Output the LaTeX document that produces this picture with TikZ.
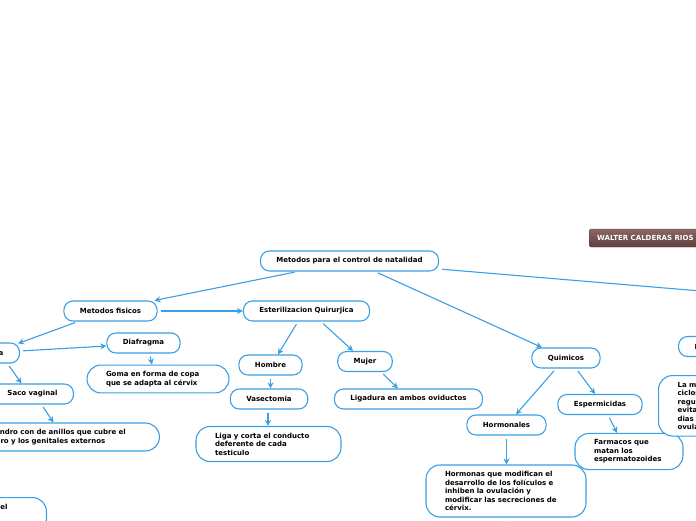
\documentclass[tikz,border=0pt]{standalone}
\usepackage{fontspec}
\setmainfont{DejaVu Sans}
\usetikzlibrary{positioning}
\usetikzlibrary{arrows.meta}
\definecolor{mapblue}{HTML}{3A9FE4}
\definecolor{brownlight}{HTML}{8A6864}
\definecolor{browndark}{HTML}{5E3F3D}
\tikzset{
  topic/.style={draw=mapblue, line width=1.1pt, fill=white, rounded corners=9pt,
    minimum height=20pt, inner xsep=16pt, font=\fontsize{7}{8.5}\selectfont\bfseries},
  note/.style={topic, rounded corners=14pt, align=left, inner xsep=19pt, inner ysep=6.3pt},
  link/.style={draw=mapblue, line width=1.1pt, -{Stealth[length=6pt,width=6pt]}, shorten <=3pt},
  author/.style={top color=brownlight, bottom color=browndark, draw=browndark, rounded corners=2pt,
    text=white, minimum height=18pt, inner xsep=8pt, font=\fontsize{7}{8.5}\selectfont\bfseries},
}
\begin{document}
\begin{tikzpicture}[x=1pt,y=-1pt]
\useasboundingbox (0,0) rectangle (696,520);
\clip (0,0) rectangle (696,520);
%\fill[white] (0,0) rectangle (696,520);
\node[author, anchor=west] (walter) at (589,238) {WALTER CALDERAS RIOS};
\node[topic] (root) at (349.5,261) {Metodos para el control de natalidad};
\node[topic] (fisicos) at (110.5,311) {Metodos fisicos};
\node[topic] (ester) at (306.5,311) {Esterilizacion Quirurjica};
\node[topic, anchor=east] (barrera) at (20,353) {Barrera};
\node[topic] (diafragma) at (143.5,343) {Diafragma};
\node[note, text width=104pt] (goma) at (158,379) {Goma en forma de copa\\que se adapta al cérvix};
\node[topic, anchor=east] (saco) at (74,394) {Saco vaginal};
\node[note, anchor=east, text width=153pt] (cilindro) at (160,437) {Cilindro con de anillos que cubre el\\útero y los genitales externos};
\node[note, anchor=north east, text width=150pt, align=right, inner xsep=39pt] (funda) at (47,497) {Funda de látex que cubre el\\\mbox{}\\\mbox{}};
\node[topic] (hombre) at (270.5,365) {Hombre};
\node[topic] (mujer) at (365,361.5) {Mujer};
\node[topic] (vasectomia) at (269,399) {Vasectomia};
\node[note, text width=107pt] (liga) at (268.5,444) {Liga y corta el conducto\\deferente de cada\\testiculo};
\node[topic] (ligadura) at (408.5,399) {Ligadura en ambos oviductos};
\node[topic] (quimicos) at (566,358) {Quimicos};
\node[topic] (hormonales) at (506.5,425) {Hormonales};
\node[topic] (espermicidas) at (600,404.5) {Espermicidas};
\node[note, text width=70pt] (farmacos) at (629,451.5) {Farmacos que\\matan los\\espermatozoides};
\node[note, text width=122pt] (hormonas) at (506,491) {Hormonas que modifican el\\desarrollo de los folículos e\\inhiben la ovulación y\\modificar las secreciones de\\cérvix.};
\node[topic, anchor=west] (ritmo) at (678,346.5) {Ritmo};
\node[note, anchor=north west, text width=90pt] (ritmotext) at (658,375) {La mujer con\\ciclos\\regulares\\evita tener\\dias de\\ovulación};
\coordinate (naturales) at (760,296);
\coordinate (hormbelow) at (506,535);
% connectors
\draw[link] ([xshift=-52pt]root.south) -- ([xshift=44pt]fisicos.north);
\draw[link] (fisicos.east) -- (ester.west);
\draw[link] ([xshift=-32.5pt]fisicos.south) -- ([xshift=-2pt,yshift=-1pt]barrera.north east);
\draw[link] ([yshift=2pt]barrera.east) -- ([yshift=-3pt]diafragma.west);
\draw[link] ([xshift=19pt]barrera.south) -- ([xshift=-11pt]saco.north);
\draw[link] ([xshift=6pt]diafragma.south) -- ([xshift=-6pt]goma.north);
\draw[link] ([xshift=9pt]saco.south) -- ([xshift=-10.5pt]cilindro.north);
\draw[link] ([xshift=-8.5pt]ester.south) -- ([xshift=7.5pt]hombre.north);
\draw[link] ([xshift=14.5pt]ester.south) -- ([xshift=-12pt]mujer.north);
\draw[link] (hombre.south) -- (hombre.south |- vasectomia.north);
\draw[link] ([xshift=-1pt]vasectomia.south) -- ([xshift=-1pt]vasectomia.south |- liga.north);
\draw[link] ([xshift=16pt]mujer.south) -- ([xshift=-10.5pt]ligadura.north);
\draw[link] ([xshift=25.5pt]root.south) -- ([xshift=-24pt]quimicos.north);
\draw[link] ([yshift=-8pt]root.east) -- (naturales);
\draw[link] ([xshift=-10pt]quimicos.south) -- ([xshift=9.5pt]hormonales.north);
\draw[link] ([xshift=10pt]quimicos.south) -- ([xshift=-5pt]espermicidas.north);
\draw[link] ([xshift=8pt]espermicidas.south) -- ([xshift=-12pt]farmacos.north);
\draw[link] (hormonales.south) -- (hormonales.south |- hormonas.north);
\draw[link] (hormonas.south) -- (hormbelow);
\end{tikzpicture}
\end{document}
